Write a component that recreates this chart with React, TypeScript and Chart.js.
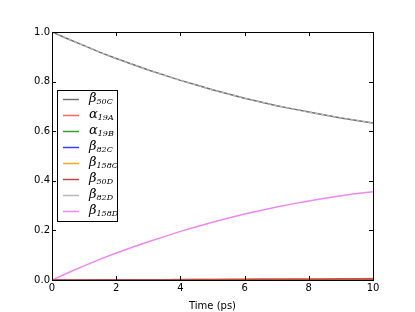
import React, { useEffect, useRef } from "react";
import { Chart, registerables } from "chart.js";

Chart.register(...registerables);

const times = [0, 0.5, 1, 1.5, 2, 2.5, 3, 3.5, 4, 4.5, 5, 5.5, 6, 6.5, 7, 7.5, 8, 8.5, 9, 9.5, 10];
const beta50C = [1.0, 0.972, 0.945, 0.918, 0.893, 0.87, 0.847, 0.826, 0.805, 0.786, 0.767, 0.75, 0.733, 0.718, 0.703, 0.69, 0.677, 0.665, 0.653, 0.643, 0.633];
const alpha19A = [0, 0.0002, 0.0004, 0.0006, 0.0008, 0.001, 0.0011, 0.0012, 0.0013, 0.0014, 0.0015, 0.0016, 0.0017, 0.0018, 0.0019, 0.002, 0.0021, 0.0022, 0.0023, 0.0024, 0.0025];
const alpha19B = [0, 0.0001, 0.0002, 0.0003, 0.0004, 0.0005, 0.0006, 0.0007, 0.0008, 0.0009, 0.001, 0.0011, 0.0012, 0.0012, 0.0013, 0.0014, 0.0015, 0.0015, 0.0016, 0.0017, 0.0018];
const beta82C = [0, 0.0001, 0.0002, 0.0003, 0.0004, 0.0004, 0.0005, 0.0006, 0.0007, 0.0008, 0.0008, 0.0009, 0.001, 0.0011, 0.0011, 0.0012, 0.0013, 0.0013, 0.0014, 0.0015, 0.0015];
const beta158C = [0, 0.0001, 0.0002, 0.0004, 0.0006, 0.0008, 0.001, 0.0012, 0.0015, 0.0018, 0.0021, 0.0024, 0.0027, 0.003, 0.0034, 0.0038, 0.0042, 0.0046, 0.005, 0.0055, 0.006];
const beta50D = [0, 0.0002, 0.0004, 0.0006, 0.0008, 0.001, 0.0012, 0.0014, 0.0016, 0.0018, 0.002, 0.0022, 0.0024, 0.0026, 0.0028, 0.003, 0.0032, 0.0034, 0.0036, 0.0038, 0.004];
const beta82D = [1.0, 0.972, 0.945, 0.918, 0.893, 0.87, 0.847, 0.826, 0.805, 0.786, 0.767, 0.75, 0.733, 0.718, 0.703, 0.69, 0.677, 0.665, 0.653, 0.643, 0.633];
const beta158D = [0, 0.029, 0.057, 0.084, 0.109, 0.132, 0.154, 0.175, 0.196, 0.215, 0.233, 0.25, 0.266, 0.28, 0.294, 0.307, 0.319, 0.33, 0.34, 0.349, 0.356];

const xTicks = [0, 2, 4, 6, 8, 10];
const yTicks = [0, 0.2, 0.4, 0.6, 0.8, 1.0];

const series = [
  { greek: "β", sub: "50C", values: beta50C, color: "#707070", dash: [] as number[], order: 1 },
  { greek: "α", sub: "19A", values: alpha19A, color: "#ff6666", dash: [] as number[], order: 1 },
  { greek: "α", sub: "19B", values: alpha19B, color: "#33a033", dash: [] as number[], order: 1 },
  { greek: "β", sub: "82C", values: beta82C, color: "#3344ff", dash: [] as number[], order: 1 },
  { greek: "β", sub: "158C", values: beta158C, color: "#ffaa22", dash: [] as number[], order: 1 },
  { greek: "β", sub: "50D", values: beta50D, color: "#b84a4a", dash: [] as number[], order: 0 },
  { greek: "β", sub: "82D", values: beta82D, color: "#b8b8b8", dash: [3, 3], order: -1 },
  { greek: "β", sub: "158D", values: beta158D, color: "#ee88ee", dash: [] as number[], order: 1 },
];

const framePlugin = {
  id: "frameTicks",
  afterDatasetsDraw(chart: any) {
    const { ctx, chartArea } = chart;
    const { left, right, top, bottom } = chartArea;
    const xs = chart.scales.x;
    const ys = chart.scales.y;
    ctx.save();
    ctx.strokeStyle = "#000";
    ctx.lineWidth = 1;
    ctx.beginPath();
    xTicks.forEach((t) => {
      const px = Math.round(xs.getPixelForValue(t)) + 0.5;
      ctx.moveTo(px, bottom);
      ctx.lineTo(px, bottom - 4);
      ctx.moveTo(px, top);
      ctx.lineTo(px, top + 4);
    });
    yTicks.forEach((t) => {
      const py = Math.round(ys.getPixelForValue(t)) + 0.5;
      ctx.moveTo(left, py);
      ctx.lineTo(left + 4, py);
      ctx.moveTo(right, py);
      ctx.lineTo(right - 4, py);
    });
    ctx.stroke();
    ctx.strokeRect(Math.round(left) + 0.5, Math.round(top) + 0.5, Math.round(right - left), Math.round(bottom - top));

    // legend
    const lx = 57.5, ly = 90.5, lw = 60, lh = 131;
    ctx.fillStyle = "#fff";
    ctx.fillRect(lx, ly, lw, lh);
    ctx.strokeStyle = "#000";
    ctx.strokeRect(lx, ly, lw, lh);
    series.forEach((s, i) => {
      const y = 99 + i * 16;
      ctx.strokeStyle = s.color;
      ctx.lineWidth = 1.5;
      ctx.setLineDash([]);
      ctx.beginPath();
      ctx.moveTo(63, y + 0.5);
      ctx.lineTo(79, y + 0.5);
      ctx.stroke();
      ctx.fillStyle = "#000";
      ctx.textBaseline = "middle";
      ctx.textAlign = "left";
      ctx.font = "italic 13px 'DejaVu Serif'";
      ctx.fillText(s.greek, 89, y);
      const gw = ctx.measureText(s.greek).width;
      ctx.font = "italic 8px 'DejaVu Serif'";
      ctx.fillText(s.sub, 89 + gw, y + 3);
    });
    ctx.restore();
  },
};

export default function App() {
  const ref = useRef<HTMLCanvasElement>(null);
  useEffect(() => {
    if (!ref.current) return;
    const chart = new Chart(ref.current, {
      type: "line",
      data: {
        datasets: series.map((s) => ({
          label: s.sub,
          data: times.map((t, i) => ({ x: t, y: s.values[i] })),
          borderColor: s.color,
          borderWidth: 1.5,
          borderDash: s.dash,
          order: s.order,
          pointRadius: 0,
          fill: false,
          tension: 0,
        })),
      },
      options: {
        animation: false,
        responsive: false,
        layout: { padding: { left: 0, top: 32, right: 42, bottom: 0 } },
        plugins: { legend: { display: false }, tooltip: { enabled: false } },
        scales: {
          x: {
            type: "linear",
            min: 0,
            max: 10,
            afterBuildTicks: (scale: any) => {
              scale.ticks = xTicks.map((v) => ({ value: v }));
            },
            afterFit: (scale: any) => {
              scale.height = 32;
            },
            grid: { display: false, drawTicks: false },
            border: { display: false },
            ticks: {
              color: "#000",
              font: { family: "'DejaVu Sans'", size: 10 },
              padding: 2,
              maxRotation: 0,
              callback: (v: any) => String(v),
            },
            title: {
              display: true,
              text: "Time (ps)",
              color: "#000",
              font: { family: "'DejaVu Sans'", size: 10 },
              padding: { top: 0, bottom: 0 },
            },
          },
          y: {
            type: "linear",
            min: 0,
            max: 1,
            afterBuildTicks: (scale: any) => {
              scale.ticks = yTicks.map((v) => ({ value: v }));
            },
            afterFit: (scale: any) => {
              scale.width = 52;
            },
            grid: { display: false, drawTicks: false },
            border: { display: false },
            ticks: {
              color: "#000",
              font: { family: "'DejaVu Sans'", size: 10 },
              padding: 2,
              callback: (v: any) => Number(v).toFixed(1),
            },
          },
        },
      },
      plugins: [framePlugin],
    });
    return () => chart.destroy();
  }, []);
  return (
    <div style={{ position: "absolute", left: 0, top: 0, width: 415, height: 312, background: "#fff" }}>
      <canvas ref={ref} width={415} height={312} />
    </div>
  );
}
